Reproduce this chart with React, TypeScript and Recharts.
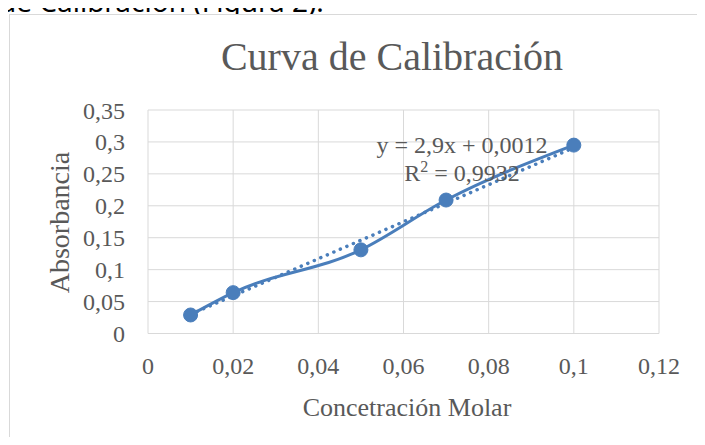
import { CartesianGrid, ComposedChart, Line, XAxis, YAxis } from "recharts"

const concentration = [0.01, 0.02, 0.05, 0.07, 0.1]
const absorbance = [0.029, 0.064, 0.131, 0.209, 0.295]

// linear trendline end points (y = 2,9x + 0,0012)
const trendX = [0.01, 0.1]
const trendY = [0.03, 0.291]

const xTicks = [0, 0.02, 0.04, 0.06, 0.08, 0.1, 0.12]
const yTicks = [0, 0.05, 0.1, 0.15, 0.2, 0.25, 0.3, 0.35]

const measured = concentration.map((x, i) => ({ x, y: absorbance[i] }))
const trend = trendX.map((x, i) => ({ x, y: trendY[i] }))

const blue = "#4a7ebb"
const textGray = "#595959"
const serif = "'Liberation Serif', 'Times New Roman', serif"

const comma = (v: number) => String(v).replace(".", ",")

export default function App() {
  return (
    <div
      style={{
        position: "relative",
        width: 705,
        height: 445,
        margin: -8,
        overflow: "hidden",
        background: "#fff",
      }}
    >
      <svg width={705} height={445} style={{ position: "absolute", left: 0, top: 0 }}>
        <text x={-1} y={12} fontSize={28} fontFamily="'Noto Sans', sans-serif" fill="#000">
          de Calibración (Figura 2).
        </text>
        <rect x={9.5} y={14.5} width={720} height={460} fill="#fff" stroke="#d9d9d9" />
      </svg>
      <div style={{ position: "absolute", left: 0, top: 0 }}>
        <ComposedChart width={705} height={445} margin={{ top: 110, right: 46, bottom: 51.5, left: 0 }}>
          <CartesianGrid stroke="#d9d9d9" />
          <XAxis
            dataKey="x"
            type="number"
            domain={[0, 0.12]}
            ticks={xTicks}
            tickFormatter={comma}
            axisLine={false}
            tickLine={false}
            tickSize={0}
            tickMargin={23.5}
            height={60}
            interval={0}
            tick={{ fill: textGray, fontSize: 24, fontFamily: serif }}
          />
          <YAxis
            type="number"
            domain={[0, 0.35]}
            ticks={yTicks}
            tickFormatter={comma}
            axisLine={false}
            tickLine={false}
            tickSize={0}
            tickMargin={23}
            width={148}
            interval={0}
            tick={{ fill: textGray, fontSize: 24, fontFamily: serif }}
          />
          <Line
            data={measured}
            dataKey="y"
            type="monotone"
            stroke={blue}
            strokeWidth={3}
            dot={{ r: 7, fill: blue, stroke: blue, strokeWidth: 1 }}
            activeDot={false}
            isAnimationActive={false}
          />
          <Line
            data={trend}
            dataKey="y"
            type="linear"
            stroke={blue}
            strokeWidth={3.5}
            strokeDasharray="0.1 7"
            strokeLinecap="round"
            dot={false}
            activeDot={false}
            isAnimationActive={false}
          />
        </ComposedChart>
      </div>
      <svg
        width={705}
        height={445}
        style={{ position: "absolute", left: 0, top: 0, pointerEvents: "none" }}
        fontFamily={serif}
        fill={textGray}
      >
        <text x={392} y={70} fontSize={40} textAnchor="middle">
          Curva de Calibración
        </text>
        <text transform="translate(69,222.5) rotate(-90)" fontSize={28} textAnchor="middle">
          Absorbancia
        </text>
        <text x={407} y={416} fontSize={26} textAnchor="middle">
          Concetración Molar
        </text>
        <text x={462} y={153} fontSize={24} textAnchor="middle">
          y = 2,9x + 0,0012
        </text>
        <text x={462} y={181} fontSize={24} textAnchor="middle">
          R<tspan dy={-9} fontSize={16}>2</tspan>
          <tspan dy={9}> = 0,9932</tspan>
        </text>
      </svg>
    </div>
  )
}
